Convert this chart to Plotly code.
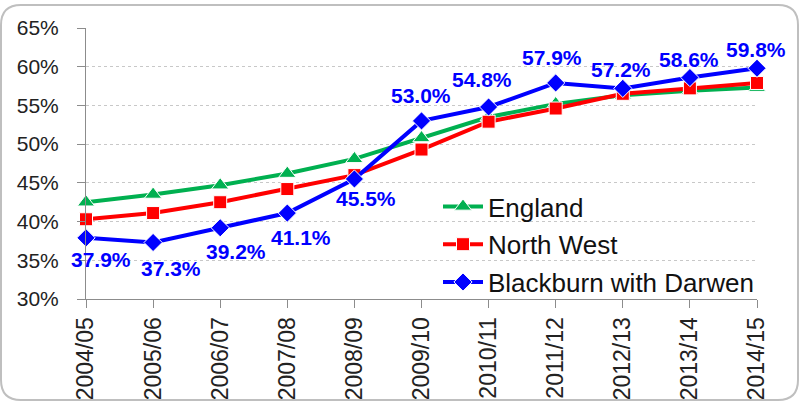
import plotly.graph_objects as go

years = ["2004/05", "2005/06", "2006/07", "2007/08", "2008/09", "2009/10",
         "2010/11", "2011/12", "2012/13", "2013/14", "2014/15"]
england = [42.5, 43.5, 44.7, 46.2, 48.1, 50.8, 53.5, 55.2, 56.3, 56.9, 57.3]
north_west = [40.3, 41.1, 42.5, 44.2, 46.0, 49.3, 52.9, 54.6, 56.5, 57.2, 57.9]
blackburn = [37.9, 37.3, 39.2, 41.1, 45.5, 53.0, 54.8, 57.9, 57.2, 58.6, 59.8]
y_ticks = [30, 35, 40, 45, 50, 55, 60, 65]
y_tick_labels = ["30%", "35%", "40%", "45%", "50%", "55%", "60%", "65%"]

# label offsets in pixels (style only)
label_dx = [15, 18, 16, 14, 12, -1, -7, -4, -2, -1, -1]
label_dy = [-22, -26, -24, -24, -20, 25, 27, 25, 19, 18, 19]

W, H = 800, 401
ML, MR, MT, MB = 86, 43, 28, 102
PW, PH = W - ML - MR, H - MT - MB

FONT = "Liberation Sans"

fig = go.Figure()
fig.add_trace(go.Scatter(
    x=years, y=england, name="England", mode="lines+markers",
    line=dict(color="#00B050", width=4),
    marker=dict(symbol="triangle-up", size=15, color="#00B050",
                line=dict(color="white", width=1)),
    cliponaxis=False, legendgroup="a"))
fig.add_trace(go.Scatter(
    x=years, y=north_west, name="North West", mode="lines+markers",
    line=dict(color="#FF0000", width=4),
    marker=dict(symbol="square", size=13, color="#FF0000",
                line=dict(color="white", width=1)),
    cliponaxis=False, legendgroup="b"))
fig.add_trace(go.Scatter(
    x=years, y=blackburn, name="Blackburn with Darwen", mode="lines+markers",
    line=dict(color="#0000FF", width=4),
    marker=dict(symbol="diamond", size=14, color="#0000FF",
                line=dict(color="white", width=1)),
    cliponaxis=False, legendgroup="c"))

for i, (yr, v) in enumerate(zip(years, blackburn)):
    fig.add_annotation(x=yr, y=v, xref="x", yref="y", text=f"{v:.1f}%",
                       showarrow=False, xshift=label_dx[i], yshift=label_dy[i],
                       font=dict(family=FONT, size=21, color="#0000FF", weight="bold"))


def xp(px):
    return (px - ML) / PW


def yp(py):
    return (H - MB - py) / PH


x0, y0, x1, y1, r = 1, 5, 798, 400, 20
path = (f"M{xp(x0 + r)},{yp(y0)} L{xp(x1 - r)},{yp(y0)} "
        f"Q{xp(x1)},{yp(y0)} {xp(x1)},{yp(y0 + r)} "
        f"L{xp(x1)},{yp(y1 - r)} Q{xp(x1)},{yp(y1)} {xp(x1 - r)},{yp(y1)} "
        f"L{xp(x0 + r)},{yp(y1)} Q{xp(x0)},{yp(y1)} {xp(x0)},{yp(y1 - r)} "
        f"L{xp(x0)},{yp(y0 + r)} Q{xp(x0)},{yp(y0)} {xp(x0 + r)},{yp(y0)} Z")
fig.add_shape(type="path", xref="paper", yref="paper", path=path,
              line=dict(color="#BFBFBF", width=2), layer="below")

fig.update_layout(
    width=W, height=H,
    margin=dict(l=ML, r=MR, t=MT, b=MB, autoexpand=False),
    paper_bgcolor="white", plot_bgcolor="white",
    font=dict(family=FONT, color="#222222"),
    showlegend=True,
    legend=dict(x=xp(438), y=yp(183), xanchor="left", yanchor="top",
                bgcolor="rgba(0,0,0,0)", font=dict(family=FONT, size=26, color="#111111"),
                tracegroupgap=1, itemwidth=40),
)
fig.update_xaxes(
    type="category", range=[0, 10], showgrid=False, automargin=False,
    showline=True, linecolor="#8C8C8C", linewidth=1,
    ticks="outside", ticklen=8, tickcolor="#8C8C8C",
    tickangle=-90, tickfont=dict(family=FONT, size=23, color="#222222"),
)
fig.update_yaxes(
    range=[30, 65], tickvals=y_ticks, ticktext=y_tick_labels, automargin=False,
    showgrid=True, gridcolor="#C8C8C8", griddash="dot", gridwidth=1,
    showline=True, linecolor="#8C8C8C", linewidth=1,
    ticks="outside", ticklen=8, tickcolor="#8C8C8C",
    tickfont=dict(family=FONT, size=21, color="#222222"),
    ticklabelstandoff=14, zeroline=False,
)

fig.write_html("out.html", config={"displayModeBar": False},
               post_script="document.body.style.margin='0';")
